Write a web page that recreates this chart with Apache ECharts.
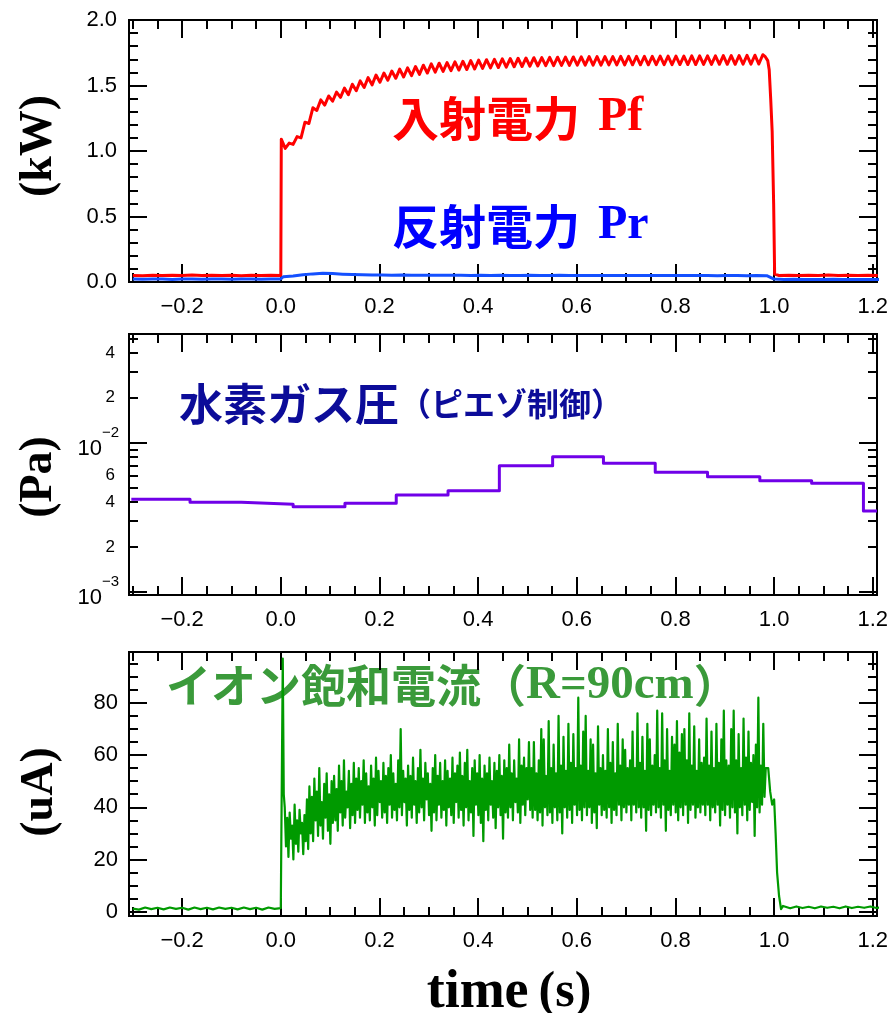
<!DOCTYPE html>
<html>
<head>
<meta charset="utf-8">
<script src="https://cdn.jsdelivr.net/npm/echarts@6/dist/echarts.min.js"></script>
<style>
  html, body { margin: 0; padding: 0; background: #ffffff; }
  #chart { width: 895px; height: 1013px; }
</style>
</head>
<body>
<div id="chart"></div>
<script>
// ---- time axis (s) ----
const timeTicks = [-0.2, 0, 0.2, 0.4, 0.6, 0.8, 1.0, 1.2];
const timeTickLabels = ['\u22120.2', '0.0', '0.2', '0.4', '0.6', '0.8', '1.0', '1.2'];
const timeMinorTicks = [-0.3, -0.25, -0.15, -0.1, -0.05, 0.05, 0.1, 0.15, 0.25, 0.3, 0.35, 0.45,
  0.5, 0.55, 0.65, 0.7, 0.75, 0.85, 0.9, 0.95, 1.05, 1.1, 1.15];

// ---- power axis (kW) ----
const powerTicks = [0, 0.5, 1.0, 1.5, 2.0];
const powerTickLabels = ['0.0', '0.5', '1.0', '1.5', '2.0'];
const powerMinorTicks = [0.1, 0.2, 0.3, 0.4, 0.6, 0.7, 0.8, 0.9, 1.1, 1.2, 1.3, 1.4, 1.6, 1.7, 1.8, 1.9];

// ---- gas pressure axis (Pa, log) ----
const gasMajorTicks = [0.001, 0.01];
const gasMinorTicks = [0.002, 0.003, 0.004, 0.005, 0.006, 0.007, 0.008, 0.009, 0.02, 0.03, 0.04, 0.05];
const gasLabelValues = [0.001, 0.002, 0.004, 0.006, 0.01, 0.02, 0.04];
const gasTickLabels = ['10^\u22123', '2', '4', '6', '10^\u22122', '2', '4'];

// ---- ion current axis (uA) ----
const ionTicks = [0, 20, 40, 60, 80];
const ionTickLabels = ['0', '20', '40', '60', '80'];
const ionMinorTicks = [5, 10, 15, 25, 30, 35, 45, 50, 55, 65, 70, 75, 85, 90, 95];

// ---- 入射電力 Pf (kW) ----
const pfPre = [0.050, 0.048, 0.052, 0.049, 0.051, 0.050, 0.053, 0.049, 0.051, 0.050, 0.052, 0.048,
  0.051, 0.050, 0.052, 0.050];                       // -0.30 .. 0.00, every 0.02 s
const pfOn = [1.09, 1.02, 1.06, 1.05, 1.11, 1.10, 1.22, 1.21, 1.33, 1.31,
  1.39, 1.35, 1.42, 1.38, 1.45, 1.41, 1.48, 1.43, 1.51, 1.46,
  1.535, 1.485, 1.56, 1.505, 1.58, 1.525, 1.595, 1.54, 1.61, 1.555,
  1.625, 1.565, 1.635, 1.575, 1.645, 1.585, 1.655, 1.595, 1.665, 1.602,
  1.67, 1.608, 1.675, 1.613, 1.68, 1.618, 1.685, 1.622, 1.69, 1.626,
  1.694, 1.63, 1.697, 1.634, 1.70, 1.637, 1.703, 1.64, 1.706, 1.643,
  1.708, 1.645, 1.71, 1.647, 1.712, 1.649, 1.713, 1.651, 1.715, 1.652,
  1.716, 1.653, 1.717, 1.654, 1.718, 1.655, 1.719, 1.655, 1.72, 1.656,
  1.72, 1.656, 1.721, 1.657, 1.721, 1.657, 1.722, 1.657, 1.722, 1.658,
  1.722, 1.658, 1.723, 1.658, 1.723, 1.659, 1.724, 1.659, 1.724, 1.659,
  1.725, 1.66, 1.725, 1.66, 1.726, 1.66, 1.726, 1.661, 1.727, 1.661,
  1.727, 1.662, 1.728, 1.662, 1.728, 1.662, 1.729, 1.663, 1.73, 1.663,
  1.731, 1.664, 1.735];                             // from 0.001 s, every 0.008 s
const pfFall = [[0.982, 1.72], [0.987, 1.69], [0.990, 1.62], [0.993, 1.40], [0.996, 1.15],
  [0.999, 0.60], [1.001, 0.06]];
const pfPost = [0.050, 0.052, 0.049, 0.051, 0.050, 0.053, 0.049, 0.051, 0.050, 0.052, 0.050];

// ---- 反射電力 Pr (kW) ----
const prPre = [0.022, 0.021, 0.023, 0.022, 0.020, 0.022, 0.023, 0.021, 0.022, 0.022, 0.021, 0.023,
  0.022, 0.021, 0.022, 0.023];                       // -0.30 .. 0.00, every 0.02 s
const prOn = [0.040, 0.046, 0.055, 0.062, 0.066, 0.064, 0.060, 0.057, 0.055, 0.054,
  0.053, 0.052, 0.053, 0.052, 0.051, 0.052, 0.051, 0.052, 0.051, 0.050,
  0.051, 0.050, 0.051, 0.050, 0.050, 0.051, 0.050, 0.050, 0.051, 0.050,
  0.050, 0.049, 0.050, 0.050, 0.049, 0.050, 0.049, 0.050, 0.049, 0.050,
  0.049, 0.049, 0.050, 0.049, 0.048, 0.049, 0.049, 0.048, 0.049, 0.048];   // from 0.005 s
const prPost = [0.022, 0.020, 0.021, 0.020, 0.019, 0.020, 0.021, 0.020, 0.019, 0.020, 0.020, 0.020];

// ---- 水素ガス圧 (Pa): piezo valve control steps ----
const gasStepTimes = [-0.303, -0.184, -0.080, 0.025, 0.130, 0.234, 0.339, 0.443, 0.551, 0.654,
  0.759, 0.865, 0.971, 1.076, 1.181, 1.2085];
const gasStepValues = [0.00417, 0.00398, 0.00386, 0.00372, 0.00392, 0.00446, 0.00476, 0.00701,
  0.00805, 0.00727, 0.00633, 0.00591, 0.00556, 0.00534, 0.00348, 0.00348];

// ---- イオン飽和電流 R=90cm (uA) ----
const ionPre = [1.2, 0.8, 1.6, 1.0, 1.5, 0.9, 1.6, 1.1, 1.5, 0.8, 1.6, 1.0, 1.5,
  0.9, 1.6, 1.1, 1.5, 0.9, 1.6, 1.0, 1.5, 0.8, 1.6, 1.1, 1.4];          // -0.30 .. 0.00, every 0.0125 s
const ionRise = [[0.0015, 1.6], [0.0040, 97], [0.0060, 45]];
const ionOn = [
  40, 25, 36, 21, 38, 28, 33, 20, 41, 26, 35, 23, 39, 30, 34, 22, 37, 27, 43, 24,
  48, 30, 44, 27, 51, 35, 46, 29, 55, 33, 42, 28, 49, 36, 53, 31, 45, 26, 50, 34,
  52, 35, 47, 31, 56, 38, 50, 33, 58, 36, 46, 40, 54, 32, 49, 37, 57, 34, 51, 39,
  55, 36, 50, 41, 58, 34, 53, 38, 48, 35, 56, 40, 51, 33, 59, 37, 54, 42, 50, 36,
  57, 38, 52, 34, 55, 41, 60, 36, 53, 39, 49, 35, 58, 40, 70, 37, 54, 42, 51, 33,
  56, 39, 52, 36, 59, 41, 50, 34, 55, 38, 62, 40, 51, 35, 57, 43, 53, 37, 49, 31,
  55, 38, 60, 35, 52, 41, 57, 36, 50, 39, 58, 33, 54, 40, 51, 37, 59, 34, 53, 42,
  56, 36, 61, 39, 52, 33, 57, 40, 62, 35, 50, 38, 55, 29, 58, 41, 53, 37, 60, 34,
  51, 27, 56, 39, 53, 35, 59, 41, 50, 36, 57, 32, 54, 40, 60, 37, 52, 28, 58, 38,
  55, 36, 64, 40, 53, 35, 58, 42, 51, 38, 66, 34, 56, 41, 59, 37, 55, 43, 65, 39,
  55, 36, 65, 39, 53, 35, 58, 38, 70, 33, 66, 40, 52, 37, 73, 38, 55, 34, 64, 40,
  53, 35, 75, 38, 56, 30, 67, 40, 54, 36, 72, 39, 57, 34, 68, 41, 55, 37, 82, 39,
  56, 35, 69, 40, 75, 37, 54, 40, 66, 34, 64, 38, 53, 32, 71, 41, 55, 37, 60, 39,
  54, 36, 70, 40, 57, 34, 65, 39, 53, 37, 72, 41, 56, 35, 66, 40, 62, 38, 55, 41,
  58, 35, 69, 41, 55, 38, 76, 40, 57, 36, 67, 40, 54, 31, 72, 39, 66, 37, 56, 41,
  60, 38, 77, 40, 55, 36, 76, 41, 58, 31, 70, 39, 54, 37, 67, 41, 64, 38, 73, 35,
  61, 40, 68, 37, 70, 41, 58, 34, 76, 39, 56, 41, 71, 36, 54, 40, 66, 38, 57, 41,
  59, 37, 74, 41, 56, 35, 69, 40, 55, 38, 72, 41, 57, 33, 66, 39, 77, 37, 58, 41,
  56, 36, 70, 40, 77, 38, 58, 30, 68, 40, 55, 37, 74, 41, 59, 35, 69, 39, 57, 42,
  60, 29, 64, 40, 82, 38, 56, 41, 72, 44, 55];      // from 0.008 s, every 0.0025 s
const ionFall = [[0.988, 55], [0.992, 46], [0.996, 41], [1.000, 43], [1.003, 30], [1.006, 15],
  [1.010, 6], [1.014, 1.0], [1.018, 2.2]];
const ionPost = [1.8, 1.3, 2.0, 1.4, 1.9, 1.3, 2.0, 1.5, 1.9, 1.3, 2.0, 1.4, 1.9, 1.5, 2.0, 1.4, 1.8];

// ---------------------------------------------------------------
const X_MIN = -0.3077, X_MAX = 1.2085;
const SANS = '"Liberation Sans", Arial, sans-serif';
const SERIF = '"Liberation Serif", "Times New Roman", serif';
const CJK = '"Noto Sans CJK JP", "Noto Sans CJK SC", sans-serif';

function sampled(t0, dt, values) {
  return values.map((v, i) => [+(t0 + i * dt).toFixed(5), v]);
}
function labelLookup(values, texts) {
  return function (v) {
    for (let i = 0; i < values.length; i++) {
      if (Math.abs(values[i] - v) <= Math.abs(values[i]) * 1e-6 + 1e-12) return texts[i];
    }
    return '';
  };
}

const tickLine = { color: '#000', width: 2 };
const frameLine = { show: true, onZero: false, lineStyle: { color: '#000', width: 2 } };

// four axes per side-pair: labelled major, minor, mirrored major, mirrored minor
function axisSet(kind, gridIndex, common, major, minor, label) {
  const sides = kind === 'x' ? ['bottom', 'top'] : ['left', 'right'];
  const out = [];
  sides.forEach((side, s) => {
    out.push(Object.assign({}, common, {
      gridIndex, position: side, splitLine: { show: false }, axisLine: frameLine,
      axisTick: { show: true, inside: true, length: 18, customValues: major, lineStyle: tickLine },
      axisLabel: s === 0 ? label : { show: false }
    }));
    out.push(Object.assign({}, common, {
      gridIndex, position: side, splitLine: { show: false }, axisLine: frameLine,
      axisTick: { show: true, inside: true, length: 9, customValues: minor, lineStyle: tickLine },
      axisLabel: { show: false }
    }));
  });
  return out;
}

const timeLabel = {
  show: true, customValues: timeTicks, formatter: labelLookup(timeTicks, timeTickLabels),
  margin: 14, fontSize: 22, fontFamily: SANS, color: '#000'
};
const xCommon = { type: 'value', min: X_MIN, max: X_MAX };

const xAxes = [
  ...axisSet('x', 0, xCommon, timeTicks, timeMinorTicks, timeLabel),
  ...axisSet('x', 1, xCommon, timeTicks, timeMinorTicks, timeLabel),
  ...axisSet('x', 2, xCommon, timeTicks, timeMinorTicks, timeLabel)
];

const gasText = labelLookup(gasLabelValues, gasTickLabels);
const yAxes = [
  ...axisSet('y', 0, { type: 'value', min: 0, max: 2.0 }, powerTicks, powerMinorTicks, {
    show: true, customValues: powerTicks, formatter: labelLookup(powerTicks, powerTickLabels),
    margin: 12, fontSize: 22, fontFamily: SANS, color: '#000'
  }),
  ...axisSet('y', 1, { type: 'log', logBase: 10, min: 0.00095, max: 0.0536 }, gasMajorTicks, gasMinorTicks, {
    show: true, customValues: gasLabelValues, margin: 10, color: '#000',
    formatter: function (v) {
      const t = gasText(v);
      if (t.indexOf('^') >= 0) { const p = t.split('^'); return '{b|' + p[0] + '}{s|' + p[1] + '}'; }
      return '{m|' + t + '}';
    },
    rich: {
      b: { fontSize: 22, fontFamily: SANS, color: '#000', lineHeight: 34, verticalAlign: 'bottom' },
      s: { fontSize: 15, fontFamily: SANS, color: '#000', lineHeight: 34, verticalAlign: 'top' },
      m: { fontSize: 17, fontFamily: SANS, color: '#000', padding: [0, 4, 0, 0] }
    }
  }),
  ...axisSet('y', 2, { type: 'value', min: -1.65, max: 99.5 }, ionTicks, ionMinorTicks, {
    show: true, customValues: ionTicks, formatter: labelLookup(ionTicks, ionTickLabels),
    margin: 11, fontSize: 22, fontFamily: SANS, color: '#000'
  })
];

const pfData = [...sampled(-0.3, 0.02, pfPre), ...sampled(0.001, 0.008, pfOn), ...pfFall,
  ...sampled(1.01, 0.02, pfPost)];
const prData = [...sampled(-0.3, 0.02, prPre), ...sampled(0.005, 0.02, prOn),
  ...sampled(1.0, 0.02, prPost)];
const gasData = gasStepTimes.map((t, i) => [t, gasStepValues[i]]);
const ionData = [...sampled(-0.3, 0.0125, ionPre), ...ionRise, ...sampled(0.008, 0.0025, ionOn),
  ...ionFall, ...sampled(1.02, 0.0125, ionPost)];

function lineSeries(name, xi, data, color, width, extra) {
  return Object.assign({
    name, type: 'line', xAxisIndex: xi, yAxisIndex: xi, data,
    showSymbol: false, symbol: 'none', silent: true, animation: false,
    lineStyle: { color, width, join: 'round' }, itemStyle: { color }
  }, extra || {});
}

const chart = echarts.init(document.getElementById('chart'), null, { renderer: 'canvas' });
chart.setOption({
  backgroundColor: '#ffffff',
  animation: false,
  grid: [
    { left: 129, top: 20, width: 748, height: 262 },
    { left: 129, top: 334, width: 748, height: 261 },
    { left: 129, top: 652, width: 748, height: 264 }
  ],
  xAxis: xAxes,
  yAxis: yAxes,
  series: [
    lineSeries('入射電力 Pf', 0, pfData, '#ff0000', 3),
    lineSeries('反射電力 Pr', 0, prData, '#1450ff', 3),
    lineSeries('水素ガス圧', 4, gasData, '#7000e8', 3, { step: 'end' }),
    lineSeries('イオン飽和電流', 8, ionData, '#009a00', 2.2)
  ],
  graphic: [
    { type: 'text', x: 39, y: 146, rotation: Math.PI / 2,
      style: { text: '(kW)', fontSize: 46, fontWeight: 'bold', fontFamily: SERIF, fill: '#000', align: 'center', verticalAlign: 'middle' } },
    { type: 'text', x: 39, y: 477, rotation: Math.PI / 2,
      style: { text: '(Pa)', fontSize: 46, fontWeight: 'bold', fontFamily: SERIF, fill: '#000', align: 'center', verticalAlign: 'middle' } },
    { type: 'text', x: 40, y: 792, rotation: Math.PI / 2,
      style: { text: '(uA)', fontSize: 46, fontWeight: 'bold', fontFamily: SERIF, fill: '#000', align: 'center', verticalAlign: 'middle' } },
    { type: 'text', x: 509, y: 993,
      style: { text: '{l|time}{p|(s)}', align: 'center', verticalAlign: 'middle',
        rich: { l: { fontSize: 54, fontWeight: 'bold', fontFamily: SERIF, fill: '#000' },
                p: { fontSize: 50, fontWeight: 'bold', fontFamily: SERIF, fill: '#000', padding: [0, 0, 0, 10] } } } },
    { type: 'text', x: 392, y: 118,
      style: { text: '{j|入射電力}{l|Pf}', align: 'left', verticalAlign: 'middle',
        rich: { j: { fontSize: 47, fontWeight: 'bold', fontFamily: CJK, fill: '#ff0000' },
                l: { fontSize: 48, fontWeight: 'bold', fontFamily: SERIF, fill: '#ff0000', padding: [0, 0, 0, 18] } } } },
    { type: 'text', x: 392, y: 226,
      style: { text: '{j|反射電力}{l|Pr}', align: 'left', verticalAlign: 'middle',
        rich: { j: { fontSize: 47, fontWeight: 'bold', fontFamily: CJK, fill: '#0000ff' },
                l: { fontSize: 48, fontWeight: 'bold', fontFamily: SERIF, fill: '#0000ff', padding: [0, 0, 0, 18] } } } },
    { type: 'text', x: 179, y: 404,
      style: { text: '{a|水素ガス圧}{b|（ピエゾ制御）}', align: 'left', verticalAlign: 'middle',
        rich: { a: { fontSize: 44, fontWeight: 'bold', fontFamily: CJK, fill: '#0c0c99' },
                b: { fontSize: 32, fontWeight: 'bold', fontFamily: CJK, fill: '#0c0c99' } } } },
    { type: 'text', x: 166, y: 686,
      style: { text: '{j|イオン飽和電流（}{l|R=90cm}{j|）}', align: 'left', verticalAlign: 'middle',
        rich: { j: { fontSize: 45, fontWeight: 'bold', fontFamily: CJK, fill: '#3a9a3a' },
                l: { fontSize: 47, fontWeight: 'bold', fontFamily: SERIF, fill: '#3a9a3a' } } } }
  ]
});
</script>
</body>
</html>
